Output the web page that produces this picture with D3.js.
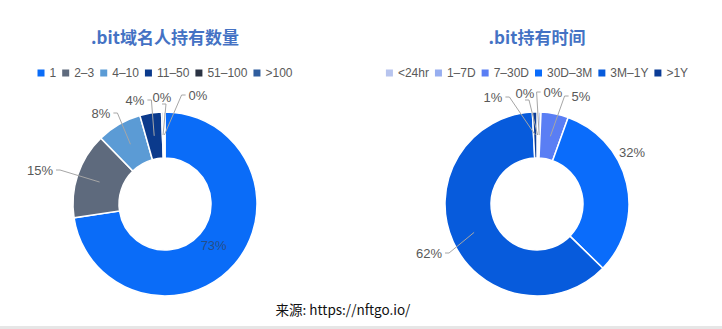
<!DOCTYPE html>
<html>
<head>
<meta charset="utf-8">
<script src="https://cdn.jsdelivr.net/npm/d3@7"></script>
<style>
  html, body { margin: 0; padding: 0; background: #fff; }
  svg { display: block; }
</style>
</head>
<body>
<div id="chart"></div>
<script>
// data
const leftTitle = '.bit域名人持有数量';
const leftCats = ['1', '2–3', '4–10', '11–50', '51–100', '>100'];
const leftVals = [72.6, 15.1, 7.9, 3.8, 0.3, 0.3];

const rightTitle = '.bit持有时间';
const rightCats = ['<24hr', '1–7D', '7–30D', '30D–3M', '3M–1Y', '>1Y'];
const rightVals = [0.3, 0.4, 4.8, 31.8, 61.9, 0.8];

const sourceText = '来源: https://nftgo.io/';

// colours
const leftColors = ['#0a6cf8', '#5e6a7d', '#5b9bd5', '#0b3a8c', '#2b3343', '#2f5d9e'];
const rightColors = ['#b7c4ee', '#97aef0', '#5a7ef4', '#0a6cfb', '#075bdc', '#0b3c96'];

// label placement (offset of label centre from donut centre; null = inside)
const leftLabelPos = [null, [-125, -34, true], [-64, -91, true], [-30, -104, true], [-3, -107, true], [33, -109, true]];
const rightLabelPos = [[-12, -111, true], [16, -112, true], [44, -108, true], [95, -52, false], [-108, 49, true], [-44, -107, true]];

const width = 722;
const height = 329;
const outerR = 92;
const innerR = 46;

const svg = d3.select('#chart')
  .append('svg')
  .attr('width', width)
  .attr('height', height)
  .style('font-family', '"Liberation Sans", Arial, "Noto Sans CJK SC", sans-serif');

svg.append('rect')
  .attr('x', 0).attr('y', 0)
  .attr('width', width).attr('height', height)
  .attr('fill', '#fff');

function drawDonut(cx, title, cats, vals, colors, labelPos) {
  const g = svg.append('g');

  // title
  g.append('text')
    .attr('x', cx)
    .attr('y', 44)
    .attr('text-anchor', 'middle')
    .attr('font-family', '"Noto Sans CJK SC", "Liberation Sans", sans-serif')
    .attr('font-weight', 'bold')
    .attr('font-size', 17)
    .attr('fill', '#4472c4')
    .text(title);

  // legend, measured then centred
  const legend = g.append('g');
  const items = legend.selectAll('g')
    .data(cats)
    .enter()
    .append('g');
  items.append('rect')
    .attr('width', 7)
    .attr('height', 7)
    .attr('y', -7.5)
    .attr('fill', (_, i) => colors[i]);
  items.append('text')
    .attr('x', 12)
    .attr('font-size', 12)
    .attr('fill', '#595959')
    .text((d) => d);
  let xPos = 0;
  items.each(function () {
    const w = d3.select(this).select('text').node().getComputedTextLength();
    d3.select(this).attr('transform', `translate(${xPos},0)`);
    xPos += 12 + w + 6;
  });
  const legendW = xPos - 6;
  legend.attr('transform', `translate(${cx - legendW / 2},77)`);

  // donut
  const cy = 204;
  const pie = d3.pie().sort(null).value((d) => d);
  const arcs = pie(vals);
  const arc = d3.arc().innerRadius(innerR).outerRadius(outerR);
  const mid = d3.arc().innerRadius(innerR).outerRadius(outerR);
  const total = d3.sum(vals);
  const fmt = d3.format('.0%');

  const donut = g.append('g').attr('transform', `translate(${cx},${cy})`);
  donut.selectAll('path')
    .data(arcs)
    .enter()
    .append('path')
    .attr('d', arc)
    .attr('fill', (_, i) => colors[i])
    .attr('stroke', '#fff')
    .attr('stroke-width', 1.5);

  arcs.forEach((a, i) => {
    const c = mid.centroid(a);
    const pos = labelPos[i];
    const label = fmt(a.data / total);
    if (!pos) {
      donut.append('text')
        .attr('x', c[0] * 0.93)
        .attr('y', c[1] * 0.93)
        .attr('dy', '0.35em')
        .attr('text-anchor', 'middle')
        .attr('font-size', 13)
        .attr('fill', '#3a3a3a')
        .attr('opacity', 0.6)
        .text(label);
      return;
    }
    const t = donut.append('text')
      .attr('x', pos[0])
      .attr('y', pos[1])
      .attr('dy', '0.35em')
      .attr('text-anchor', 'middle')
      .attr('font-size', 13)
      .attr('fill', '#595959')
      .text(label);
    if (!pos[2]) return;
    const w = t.node().getComputedTextLength();
    let start;
    if (pos[0] + w / 2 < c[0] - 4) start = [pos[0] + w / 2 + 3, pos[1]];
    else if (pos[0] - w / 2 > c[0] + 4) start = [pos[0] - w / 2 - 3, pos[1]];
    else start = [pos[0], pos[1] + 7];
    donut.insert('path', 'text')
      .attr('d', d3.line()([start, [start[0] + (c[0] > start[0] ? 4 : -4), start[1]], c]))
      .attr('fill', 'none')
      .attr('stroke', '#a6a6a6')
      .attr('stroke-width', 1);
  });
}

drawDonut(165, leftTitle, leftCats, leftVals, leftColors, leftLabelPos);
drawDonut(537, rightTitle, rightCats, rightVals, rightColors, rightLabelPos);

// source note
svg.append('text')
  .attr('x', 343)
  .attr('y', 315)
  .attr('text-anchor', 'middle')
  .attr('font-family', '"Noto Sans CJK SC", "Liberation Sans", sans-serif')
  .attr('font-size', 13.5)
  .attr('fill', '#111')
  .text(sourceText);

// bottom rule
svg.append('rect')
  .attr('x', 0)
  .attr('y', 326)
  .attr('width', width)
  .attr('height', 3)
  .attr('fill', '#e6e6e6');
</script>
</body>
</html>
